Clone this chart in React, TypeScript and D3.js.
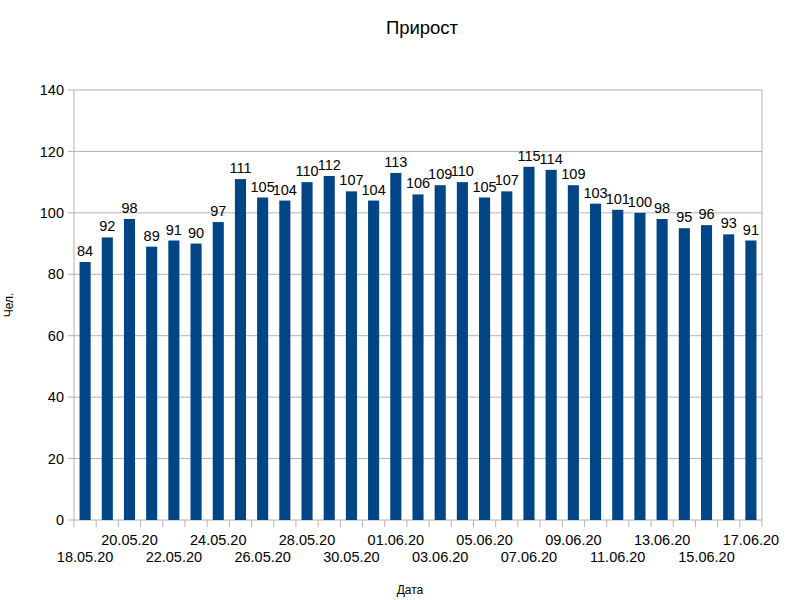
import React from "react";
import * as d3 from "d3";

const dates = [
  "18.05.20","19.05.20","20.05.20","21.05.20","22.05.20","23.05.20","24.05.20","25.05.20",
  "26.05.20","27.05.20","28.05.20","29.05.20","30.05.20","31.05.20","01.06.20","02.06.20",
  "03.06.20","04.06.20","05.06.20","06.06.20","07.06.20","08.06.20","09.06.20","10.06.20",
  "11.06.20","12.06.20","13.06.20","14.06.20","15.06.20","16.06.20","17.06.20",
];
const values = [84,92,98,89,91,90,97,111,105,104,110,112,107,104,113,106,109,110,105,107,115,114,109,103,101,100,98,95,96,93,91];
const yTicks = [0,20,40,60,80,100,120,140];
const title = "Прирост";
const yTitle = "Чел.";
const xTitle = "Дата";

export default function App() {
  const left = 74, right = 762, top = 90, bottom = 520;
  const x = d3.scaleBand<string>().domain(dates).range([left, right]).paddingInner(0.5).paddingOuter(0.25);
  const step = (right - left) / dates.length;
  const y = d3.scaleLinear().domain([0, 140]).range([bottom, top]);
  const font = "'Liberation Sans', Arial, sans-serif";
  return (
    <svg width={800} height={600} style={{ position: "absolute", left: 0, top: 0, background: "#fff" }} fontFamily={font}>
      <rect x={0} y={0} width={800} height={600} fill="#fff" />
      <text x={422} y={34} textAnchor="middle" fontSize={18.5} fill="#000">{title}</text>
      {yTicks.map((t) => (
        <g key={t}>
          <line x1={left - 6} x2={right} y1={y(t)} y2={y(t)} stroke="#b3b3b3" strokeWidth={1} />
          <text x={left - 10} y={y(t)} dy="0.35em" textAnchor="end" fontSize={14.5} fill="#000">{t}</text>
        </g>
      ))}
      <line x1={left} x2={left} y1={top} y2={bottom} stroke="#b3b3b3" />
      <line x1={right} x2={right} y1={top} y2={bottom} stroke="#b3b3b3" />
      {d3.range(dates.length + 1).map((i) => (
        <line key={i} x1={left + i * step} x2={left + i * step} y1={bottom} y2={bottom + 7} stroke="#b3b3b3" />
      ))}
      {values.map((v, i) => (
        <g key={i}>
          <rect x={x(dates[i])} y={y(v)} width={x.bandwidth()} height={bottom - y(v)} fill="#004586" />
          <text x={(x(dates[i]) as number) + x.bandwidth() / 2} y={y(v) - 6} textAnchor="middle" fontSize={14.5} fill="#000">{v}</text>
        </g>
      ))}
      {dates.map((d, i) =>
        i % 2 === 0 ? (
          <text key={d} x={(x(d) as number) + x.bandwidth() / 2} y={i % 4 === 0 ? 562 : 545} textAnchor="middle" fontSize={14.5} fill="#000">{d}</text>
        ) : null
      )}
      <text transform={`translate(13,${(top + bottom) / 2}) rotate(-90)`} textAnchor="middle" fontSize={12} fill="#000">{yTitle}</text>
      <text x={410} y={594} textAnchor="middle" fontSize={12} fill="#000">{xTitle}</text>
    </svg>
  );
}
